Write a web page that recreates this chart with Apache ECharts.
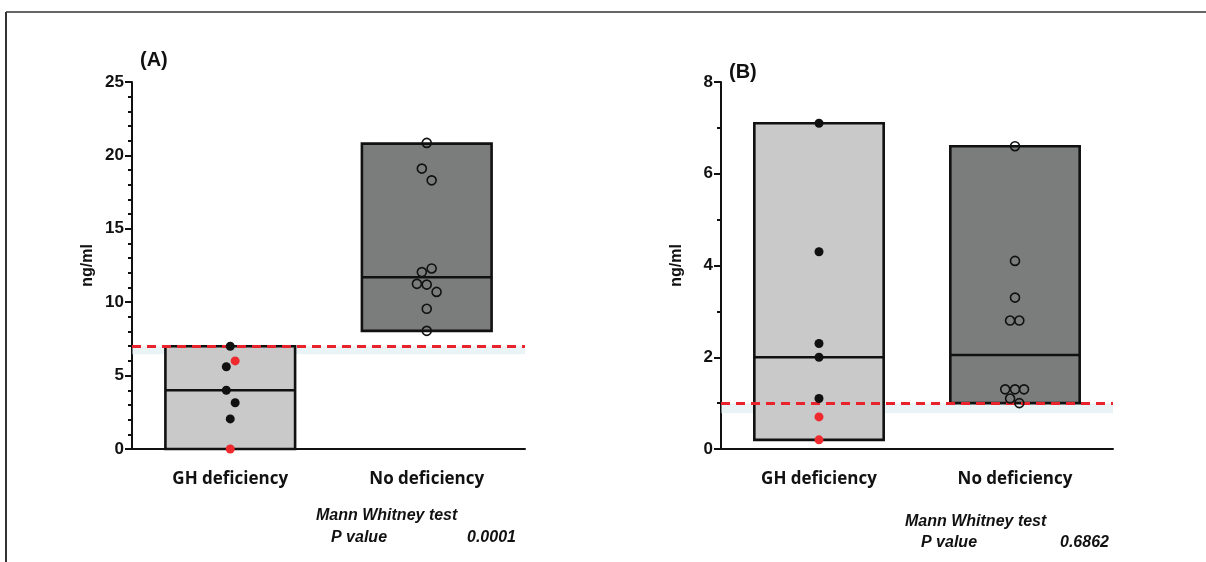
<!DOCTYPE html>
<html><head><meta charset="utf-8">
<script src="https://cdn.jsdelivr.net/npm/echarts@6/dist/echarts.min.js"></script>
<style>html,body{margin:0;padding:0;background:#fff}#c{width:1206px;height:562px}</style>
</head><body><div id="c"></div>
<script>
// ---- data ----
const categories = ['GH deficiency', 'No deficiency'];
const panelTitles = ['(A)', '(B)'];
const yAxisName = 'ng/ml';
const yRangeA = [0, 25, 5];
const yRangeB = [0, 8, 2];
const thresholdA = 7;
const thresholdB = 1;
const pValues = ['0.0001', '0.6862'];
const testName = 'Mann Whitney test';

// range bars: [categoryIndex, low, high, median]
const barsA = [[0, 0.0, 7.0, 4.0], [1, 8.05, 20.8, 11.7]];
const barsB = [[0, 0.2, 7.1, 2.0], [1, 1.0, 6.6, 2.05]];

// GH deficiency points (filled)
const ghA_black = [7.0, 5.6, 4.0, 3.15, 2.05];
const ghA_blackJit = [0, -0.02, -0.02, 0.025, 0];
const ghA_red = [6.0, 0.0];
const ghA_redJit = [0.025, 0];
// No deficiency points (open)
const noA = [20.85, 19.1, 18.3, 12.3, 12.05, 11.25, 11.2, 10.7, 9.55, 8.05];
const noA_jit = [0, -0.025, 0.025, 0.025, -0.025, -0.05, 0, 0.05, 0, 0];

const ghB_black = [7.1, 4.3, 2.3, 2.0, 1.1];
const ghB_blackJit = [0, 0, 0, 0, 0];
const ghB_red = [0.7, 0.2];
const ghB_redJit = [0, 0];
const noB = [6.6, 4.1, 3.3, 2.8, 2.8, 1.3, 1.3, 1.3, 1.1, 1.0];
const noB_jit = [0, 0, 0, -0.025, 0.022, -0.05, 0, 0.046, -0.025, 0.022];

// ---- chart ----
const barFill = ['#c9c9c9', '#7b7d7d'];
const tickFont = {fontFamily: 'Liberation Sans, Arial', fontWeight: 'bold', fontSize: 17, color: '#111'};

function pts(vals, jit, cat) { return vals.map((v, i) => [cat + jit[i], v]); }

function rangeRender(params, api) {
  const idx = api.value(0);
  const w = api.size([1, 0])[0] * 0.66;
  const cx = api.coord([idx, api.value(1)])[0];
  const yLo = api.coord([idx, api.value(1)])[1];
  const yHi = api.coord([idx, api.value(2)])[1];
  const yMed = api.coord([idx, api.value(3)])[1];
  return {type: 'group', children: [
    {type: 'rect', shape: {x: cx - w / 2, y: yHi, width: w, height: yLo - yHi},
     style: {fill: barFill[idx], stroke: '#111', lineWidth: 2.6}},
    {type: 'line', shape: {x1: cx - w / 2, y1: yMed, x2: cx + w / 2, y2: yMed},
     style: {stroke: '#111', lineWidth: 2.6}}
  ]};
}

function xCat(gi) {
  return {type: 'category', gridIndex: gi, data: categories, boundaryGap: true,
    axisLine: {onZero: false, lineStyle: {color: '#111', width: 2}},
    axisTick: {alignWithLabel: true, length: 6, lineStyle: {color: '#111', width: 2}},
    axisLabel: {fontFamily: 'Open Sans', fontWeight: 'bold', fontSize: 17, color: '#111', margin: 22}};
}
function xVal(gi) {
  return {type: 'value', gridIndex: gi, min: -0.5, max: 1.5, show: false};
}
function yAx(gi, r, minorSplit) {
  return {type: 'value', gridIndex: gi, min: r[0], max: r[1], interval: r[2],
    name: yAxisName, nameLocation: 'middle', nameGap: 36, nameRotate: 90,
    nameTextStyle: {fontFamily: 'Liberation Sans, Arial', fontWeight: 'bold', fontSize: 16, color: '#111'},
    axisLine: {show: true, onZero: false, lineStyle: {color: '#111', width: 2}},
    axisTick: {show: true, length: 7, lineStyle: {color: '#111', width: 2}},
    minorTick: {show: true, splitNumber: minorSplit, length: 4, lineStyle: {color: '#111', width: 2}},
    splitLine: {show: false},
    axisLabel: Object.assign({margin: 8}, tickFont)};
}
function thresholdLine(val, bandLow) {
  return {
    markLine: {silent: true, symbol: 'none', label: {show: false},
      lineStyle: {color: '#e8232b', type: [9, 6], width: 3}, data: [{yAxis: val}]},
    markArea: {silent: true, itemStyle: {color: 'rgba(214,234,238,0.5)'},
      data: [[{yAxis: bandLow}, {yAxis: val}]]}
  };
}
function scat(xi, yi, data, filled, color) {
  return {type: 'scatter', xAxisIndex: xi, yAxisIndex: yi, data: data, symbolSize: 9, z: 5,
    itemStyle: filled ? {color: color, opacity: 1} : {color: 'rgba(0,0,0,0)', borderColor: '#111', borderWidth: 1.6, opacity: 1}};
}

const chart = echarts.init(document.getElementById('c'), null, {renderer: 'canvas'});
const tFont = 'italic bold 16px "Liberation Sans", Arial';
chart.setOption({
  animation: false,
  backgroundColor: '#fff',
  title: [
    {text: panelTitles[0], left: 135, top: 45, textStyle: {fontFamily: 'Liberation Sans, Arial', fontWeight: 'bold', fontSize: 20, color: '#111'}},
    {text: panelTitles[1], left: 724, top: 57, textStyle: {fontFamily: 'Liberation Sans, Arial', fontWeight: 'bold', fontSize: 20, color: '#111'}}
  ],
  grid: [
    {left: 132, top: 82, width: 393, height: 367},
    {left: 721, top: 82, width: 392, height: 367}
  ],
  xAxis: [xCat(0), xCat(1), xVal(0), xVal(1)],
  yAxis: [yAx(0, yRangeA, 5), yAx(1, yRangeB, 2)],
  series: [
    Object.assign({type: 'custom', xAxisIndex: 0, yAxisIndex: 0, data: barsA, renderItem: rangeRender, z: 2}, thresholdLine(thresholdA, 6.45)),
    Object.assign({type: 'custom', xAxisIndex: 1, yAxisIndex: 1, data: barsB, renderItem: rangeRender, z: 2}, thresholdLine(thresholdB, 0.78)),
    scat(2, 0, pts(ghA_black, ghA_blackJit, 0), true, '#111'),
    scat(2, 0, pts(ghA_red, ghA_redJit, 0), true, '#ee2a2f'),
    scat(2, 0, pts(noA, noA_jit, 1), false),
    scat(3, 1, pts(ghB_black, ghB_blackJit, 0), true, '#111'),
    scat(3, 1, pts(ghB_red, ghB_redJit, 0), true, '#ee2a2f'),
    scat(3, 1, pts(noB, noB_jit, 1), false)
  ],
  graphic: [
    {type: 'line', shape: {x1: 6, y1: 12, x2: 1206, y2: 12}, style: {stroke: '#666', lineWidth: 2}},
    {type: 'line', shape: {x1: 6, y1: 12, x2: 6, y2: 562}, style: {stroke: '#333', lineWidth: 2}},
    {type: 'text', left: 316, top: 508, style: {text: testName, font: tFont, fill: '#111'}},
    {type: 'text', left: 331, top: 530, style: {text: 'P value', font: tFont, fill: '#111'}},
    {type: 'text', left: 467, top: 530, style: {text: pValues[0], font: tFont, fill: '#111'}},
    {type: 'text', left: 905, top: 514, style: {text: testName, font: tFont, fill: '#111'}},
    {type: 'text', left: 921, top: 535, style: {text: 'P value', font: tFont, fill: '#111'}},
    {type: 'text', left: 1060, top: 535, style: {text: pValues[1], font: tFont, fill: '#111'}}
  ]
});
</script></body></html>
